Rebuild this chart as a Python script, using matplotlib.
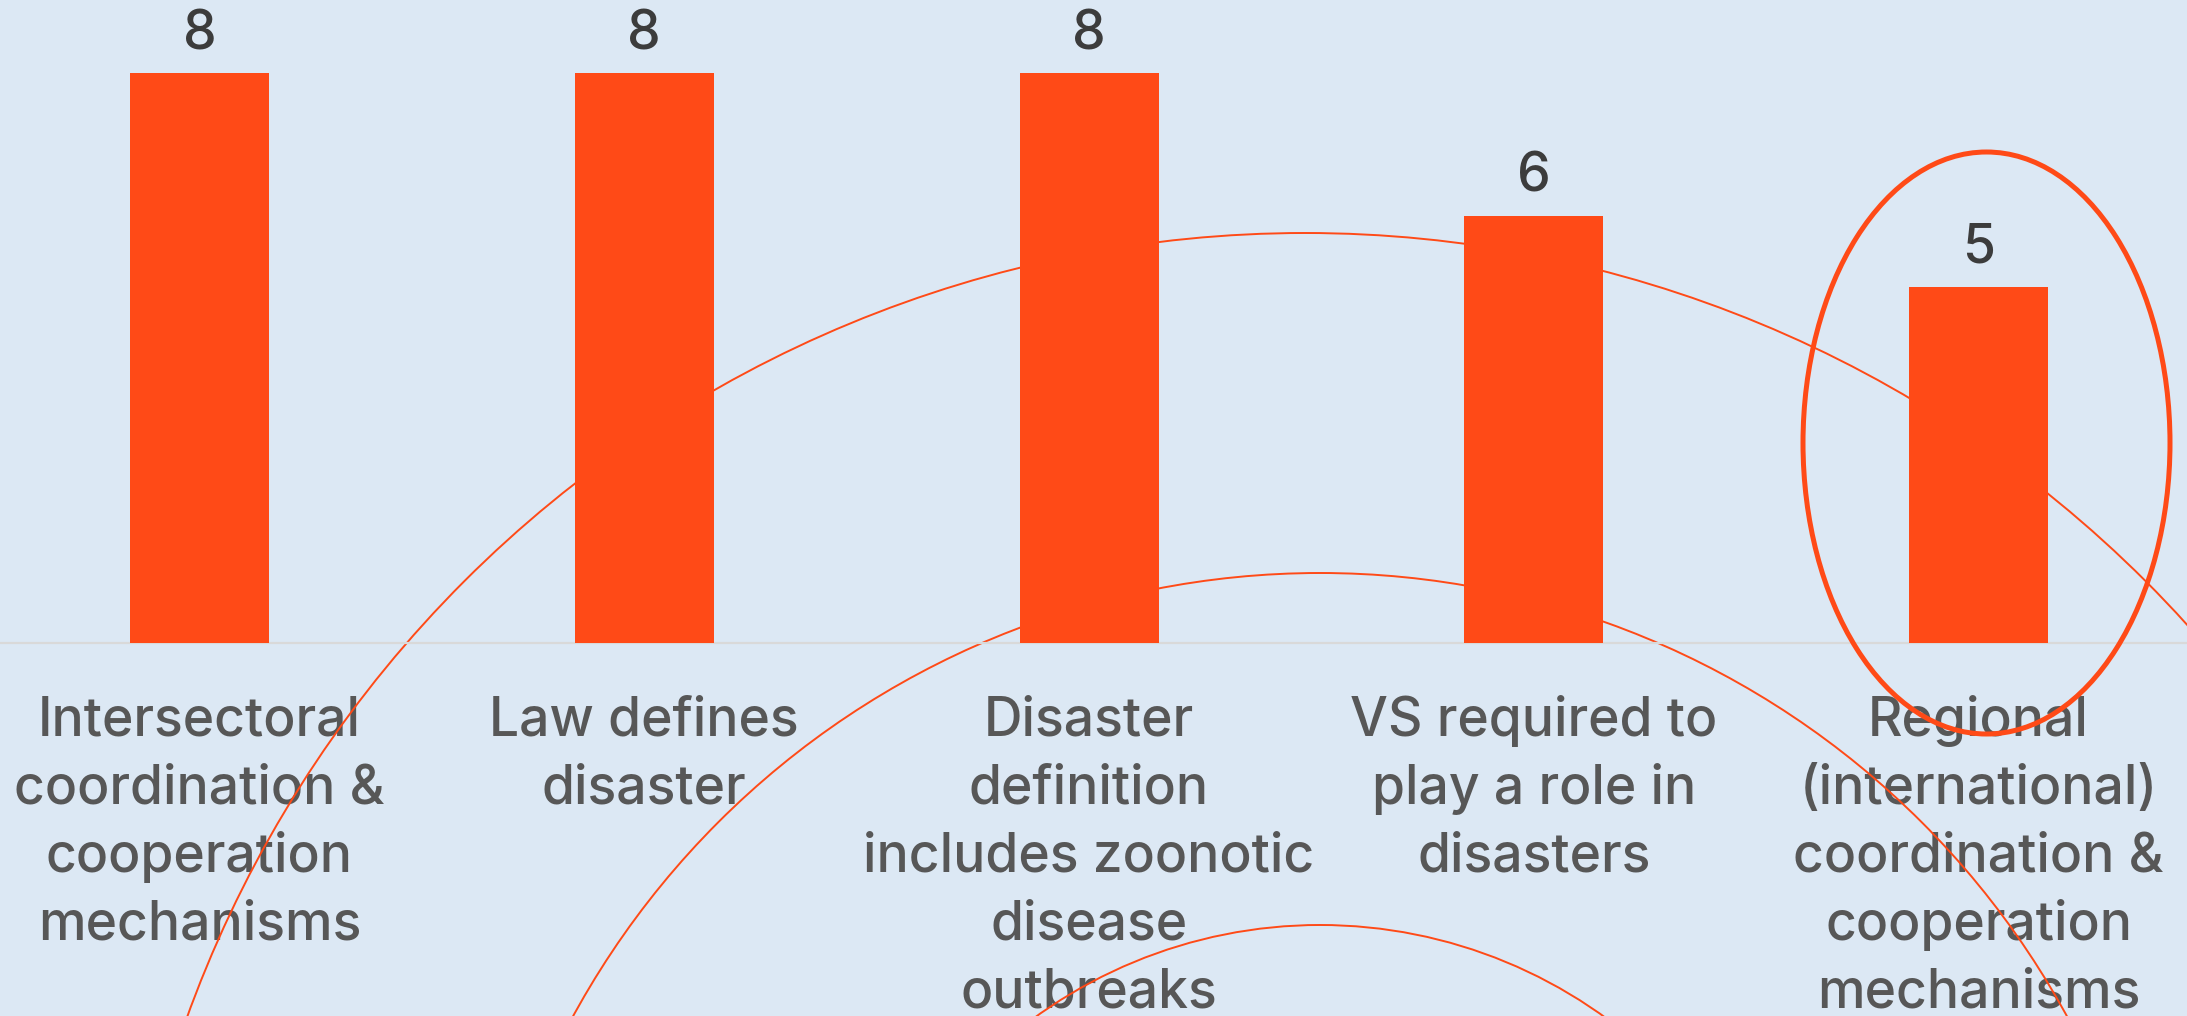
import matplotlib
matplotlib.use("Agg")
import matplotlib.pyplot as plt
from matplotlib.patches import Circle, Ellipse
from matplotlib.transforms import Affine2D
from matplotlib import font_manager

# ---- data -------------------------------------------------------------
categories = [
    "Intersectoral\ncoordination &\ncooperation\nmechanisms",
    "Law defines\ndisaster",
    "Disaster\ndefinition\nincludes zoonotic\ndisease\noutbreaks",
    "VS required to\nplay a role in\ndisasters",
    "Regional\n(international)\ncoordination &\ncooperation\nmechanisms",
]
counts = [8, 8, 8, 6, 5]
highlight_index = 4

# ---- style ------------------------------------------------------------
W, H, DPI = 2187, 1016, 100
BG = "#DCE8F4"
ORANGE = "#FF4A17"
LABEL_GRAY = "#575757"
VALUE_GRAY = "#3C3C3C"
BASELINE_GRAY = "#D9D9D9"

installed = {f.name for f in font_manager.fontManager.ttflist}
FONT = next(f for f in ["Inter", "Liberation Sans", "DejaVu Sans"] if f in installed)
plt.rcParams["font.family"] = [FONT, "DejaVu Sans"]

# layout in pixels
first_center_px = 199.5
step_px = 444.75
bar_px = 139.0
baseline_px = 643.0          # from top
unit_px = 71.25              # pixels per count

fig = plt.figure(figsize=(W / DPI, H / DPI), dpi=DPI, facecolor=BG)
ax = fig.add_axes([0, 0, 1, 1])
ax.set_facecolor(BG)
ax.set_axis_off()

x0 = -first_center_px / step_px
ax.set_xlim(x0, x0 + W / step_px)
ax.set_ylim(-(H - baseline_px) / unit_px, baseline_px / unit_px)

# pixel space measured from the top-left corner
px = Affine2D().scale(1 / DPI, -1 / DPI).translate(0, H / DPI) + fig.dpi_scale_trans

# decorative rings: (centre x, centre y, radius) in pixels
rings = [(1305, 1422, 1189), (1320, 1424, 851), (1320, 1411, 486)]
for cx, cy, r in rings:
    ax.add_patch(Circle((cx, cy), r, transform=px, fill=False,
                        edgecolor=ORANGE, linewidth=1.4, zorder=1))

ax.axhline(0, color=BASELINE_GRAY, linewidth=1.6, zorder=1.5)

positions = list(range(len(categories)))
ax.bar(positions, counts, width=bar_px / step_px, color=ORANGE,
       linewidth=0, zorder=2)

for i, v in zip(positions, counts):
    ax.annotate(str(v), xy=(i, v), xytext=(0, 24), textcoords="offset pixels",
                ha="center", va="baseline", fontsize=38.5, fontweight=500,
                color=VALUE_GRAY, zorder=5)

for i, label in zip(positions, categories):
    for k, line in enumerate(label.split("\n")):
        ax.annotate(line, xy=(i, 0), xytext=(0, -(93 + 68 * k)),
                    textcoords="offset pixels", ha="center", va="baseline",
                    fontsize=38.5, fontweight=500, color=LABEL_GRAY,
                    zorder=0.5, annotation_clip=False)

# highlight ring around the last category
ax.add_patch(Ellipse((1986.5, 443), 367, 582, transform=px, fill=False,
                     edgecolor=ORANGE, linewidth=3.6, zorder=4))

fig.savefig("out.png", dpi=DPI, facecolor=BG)
